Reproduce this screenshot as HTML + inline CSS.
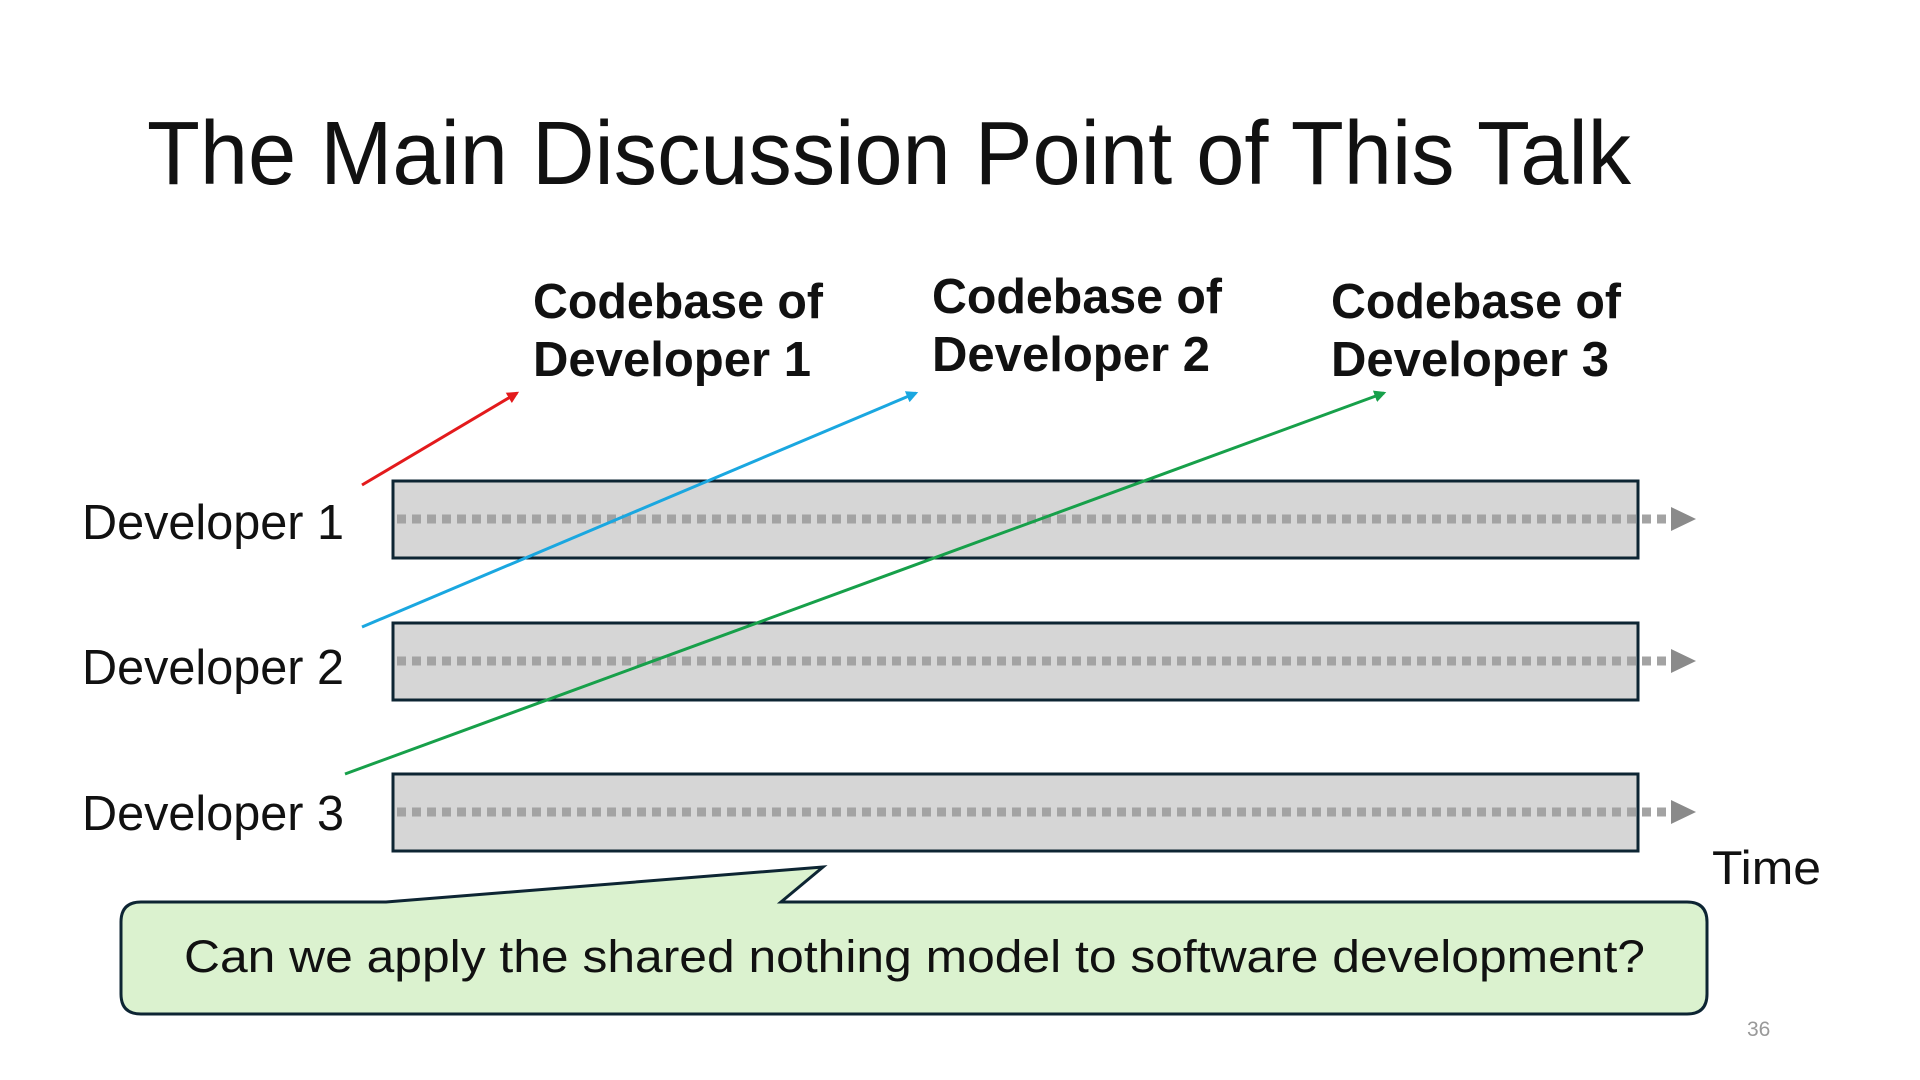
<!DOCTYPE html>
<html><head><meta charset="utf-8"><style>
html,body{margin:0;padding:0;background:#fff;width:1920px;height:1080px;overflow:hidden}
svg{display:block;font-family:"Liberation Sans","Noto Sans CJK JP",sans-serif}
</style></head><body>
<svg id="slide" width="1920" height="1080" viewBox="0 0 1920 1080">
<defs>
<marker id="arR" viewBox="0 0 10 10" refX="8" refY="5" markerWidth="4" markerHeight="4" orient="auto"><path d="M0,0L10,5L0,10z" fill="#e31a1c"/></marker>
<marker id="arB" viewBox="0 0 10 10" refX="8" refY="5" markerWidth="4" markerHeight="4" orient="auto"><path d="M0,0L10,5L0,10z" fill="#1aa7e0"/></marker>
<marker id="arG" viewBox="0 0 10 10" refX="8" refY="5" markerWidth="4" markerHeight="4" orient="auto"><path d="M0,0L10,5L0,10z" fill="#17a04a"/></marker>
</defs>
<text x="147" y="184" font-size="90" fill="#111" textLength="1484" lengthAdjust="spacingAndGlyphs">The Main Discussion Point of This Talk</text>
<g id="rows"></g>
<g id="heads"></g>
<g id="arrows"></g>
<path d="M141,902 L386,902 L823,867 L781,902 L1687,902 Q1707,902 1707,922 L1707,994 Q1707,1014 1687,1014 L141,1014 Q121,1014 121,994 L121,922 Q121,902 141,902 Z" fill="#dbf2cf" stroke="#0d2533" stroke-width="3"/>
<text x="184" y="972" font-size="45" fill="#111" textLength="1461" lengthAdjust="spacingAndGlyphs">Can we apply the shared nothing model to software development?</text>
<text x="1712" y="884" font-size="47" fill="#111" textLength="109" lengthAdjust="spacingAndGlyphs">Time</text>
<text x="1747" y="1036" font-size="21" fill="#999">36</text>
</svg>
<script>
const developers = ["Developer 1","Developer 2","Developer 3"];
const rowTops = [481, 623, 774];
const labelBaselines = [539, 684, 830];
const headLines1 = ["Codebase of","Codebase of","Codebase of"];
const headLines2 = ["Developer 1","Developer 2","Developer 3"];
const headX = [533, 932, 1331];
const headY = [318, 313, 318];
const arrowStart = [[362,485],[362,627],[345,774]];
const arrowEnd = [[517,393],[916,393],[1384,393]];
const arrowColors = ["#e31a1c","#1aa7e0","#17a04a"];
const markers = ["arR","arB","arG"];
const NS="http://www.w3.org/2000/svg";
function mk(tag,attrs,parent){const e=document.createElementNS(NS,tag);for(const k in attrs)e.setAttribute(k,attrs[k]);parent.appendChild(e);return e;}
const rows=document.getElementById('rows');
developers.forEach((d,i)=>{
  const y=rowTops[i];
  const r=mk('rect',{x:393,y:y,width:1245,height:77,fill:'#d6d6d6',stroke:'#0d2533','stroke-width':3},rows);
  
  
  const l=mk('line',{x1:397,y1:y+38,x2:1668,y2:y+38,stroke:'#a3a3a3','stroke-width':9,'stroke-dasharray':'9 6'},rows);
  
  
  const p=mk('path',{d:`M1671,${y+26}L1696,${y+38}L1671,${y+50}Z`,fill:'#8a8a8a'},rows);
  
  
  const t=mk('text',{x:82,y:labelBaselines[i],'font-size':49,fill:'#111',textLength:262,lengthAdjust:'spacingAndGlyphs'},rows);
  t.textContent=d;
  
  
});
const heads=document.getElementById('heads');
headX.forEach((x,i)=>{
  const t1=mk('text',{x:x,y:headY[i],'font-size':49,'font-weight':'bold',fill:'#111',textLength:290,lengthAdjust:'spacingAndGlyphs'},heads);
  t1.textContent=headLines1[i];
  
  
  const t2=mk('text',{x:x,y:headY[i]+58,'font-size':49,'font-weight':'bold',fill:'#111',textLength:278,lengthAdjust:'spacingAndGlyphs'},heads);
  t2.textContent=headLines2[i];
  
  
});
const arrows=document.getElementById('arrows');
arrowStart.forEach((s,i)=>{
  const a=mk('line',{x1:s[0],y1:s[1],x2:arrowEnd[i][0],y2:arrowEnd[i][1],stroke:arrowColors[i],'stroke-width':3,'marker-end':`url(#${markers[i]})`},arrows);
  
  
});
</script>
</body></html>
